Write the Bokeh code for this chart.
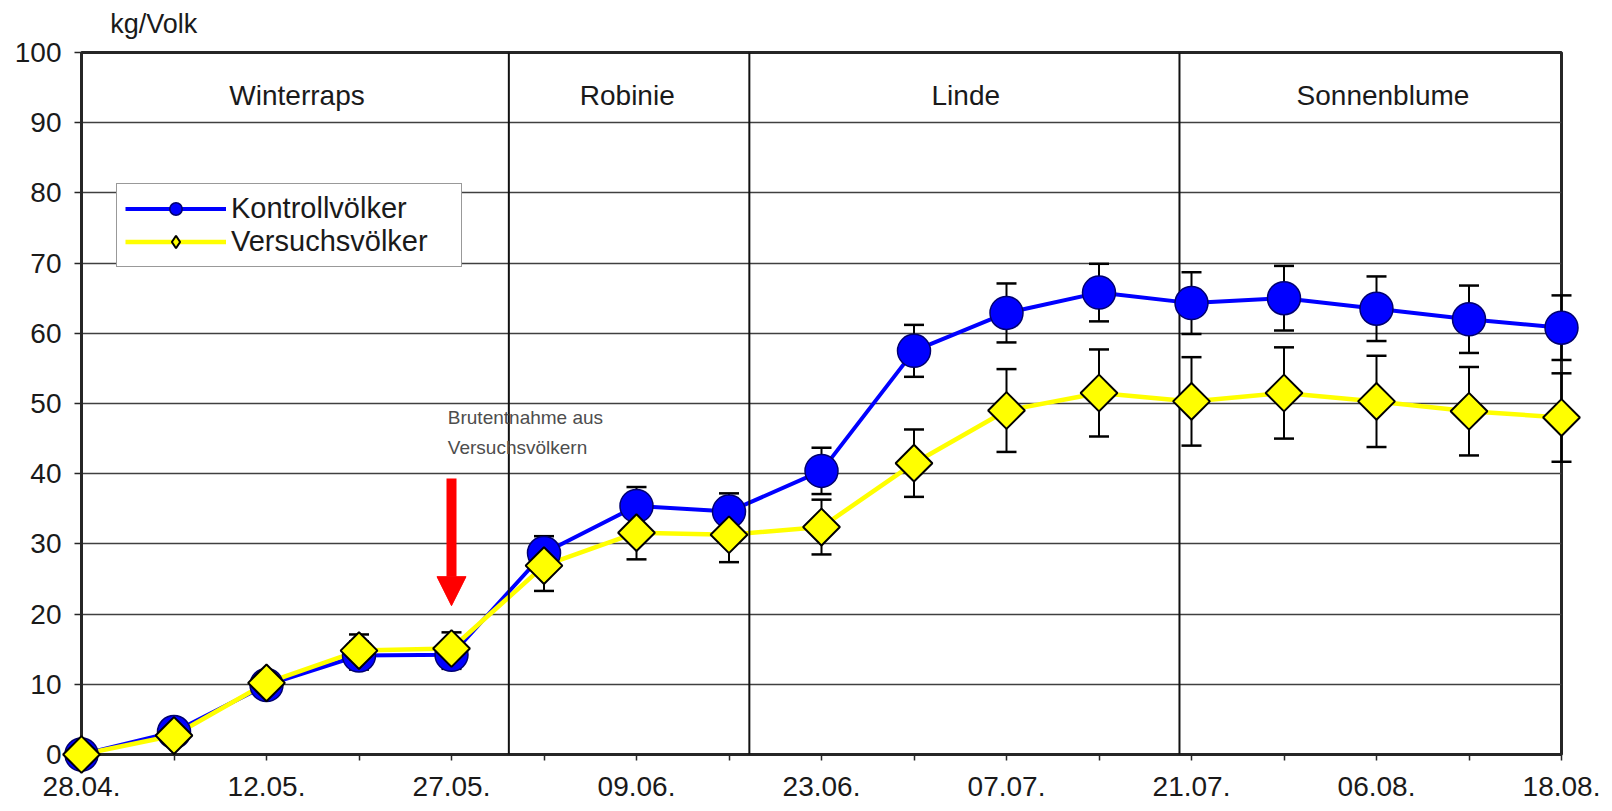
import numpy as np
from bokeh.plotting import figure
from bokeh.models import (Range1d, FixedTicker, Span, Label, Arrow, NormalHead,
                          ColumnDataSource, Legend, LegendItem)
from bokeh.core.properties import value
from bokeh.embed import file_html
from bokeh.resources import INLINE

# ---------------- data ----------------
dates = ["28.04.", "", "12.05.", "", "27.05.", "", "09.06.", "", "23.06.", "",
         "07.07.", "", "21.07.", "", "06.08.", "", "18.08."]
kontroll = [0.0, 3.2, 9.9, 14.1, 14.2, 28.7, 35.4, 34.6, 40.4, 57.5, 62.9, 65.8,
            64.3, 65.0, 63.5, 62.0, 60.8]
kontroll_err = [0.4, 0.8, 1.0, 2.0, 2.0, 2.4, 2.7, 2.6, 3.3, 3.7, 4.2, 4.1,
                4.4, 4.6, 4.6, 4.8, 4.6]
versuch = [0.0, 2.7, 10.2, 14.8, 15.1, 26.9, 31.6, 31.3, 32.4, 41.5, 49.0, 51.5,
           50.3, 51.5, 50.3, 48.9, 48.0]
versuch_err = [0.4, 0.8, 1.0, 2.3, 2.3, 3.6, 3.8, 3.9, 3.9, 4.8, 5.9, 6.2,
               6.3, 6.5, 6.5, 6.3, 6.3]
y_ticks = list(range(0, 101, 10))
sections = ["Winterraps", "Robinie", "Linde", "Sonnenblume"]
section_bounds = [4.62, 7.22, 11.87]          # boundaries between sections (date index)
section_label_x = [2.33, 5.90, 9.56, 14.07]
annotation_lines = ["Brutentnahme aus", "Versuchsvölkern"]
arrow_x, arrow_top, arrow_tip = 4, 39.3, 21.2

x = list(range(len(dates)))

FONT = "Liberation Sans"
TXT = "#1a1a1a"
BLUE = "#0000FF"
YELLOW = "#FFFF00"

p = figure(width=1608, height=808, x_range=Range1d(0, 16), y_range=Range1d(0, 100),
           output_backend="svg", toolbar_location=None,
           min_border_left=81, min_border_right=47, min_border_top=52, min_border_bottom=54)
p.background_fill_color = "white"
p.border_fill_color = "white"
p.outline_line_color = "#262626"
p.outline_line_width = 3

# axes
xa = p.xaxis[0]
xa.ticker = FixedTicker(ticks=x)
xa.major_label_overrides = {i: d for i, d in zip(x, dates)}
ya = p.yaxis[0]
ya.ticker = FixedTicker(ticks=y_ticks)
for ax in (xa, ya):
    ax.axis_line_color = "#262626"
    ax.axis_line_width = 3
    ax.major_tick_line_color = "#262626"
    ax.major_tick_line_width = 1.5
    ax.major_tick_in = 0
    ax.minor_tick_line_color = None
    ax.major_label_text_font = FONT
    ax.major_label_text_font_size = "28px"
    ax.major_label_text_color = TXT
xa.major_tick_out = 6
xa.major_label_standoff = 16
ya.major_tick_out = 7
ya.major_label_standoff = 13

p.xgrid.grid_line_color = None
p.ygrid.grid_line_color = "#404040"
p.ygrid.grid_line_width = 1.5

# section dividers and labels
for b in section_bounds:
    p.add_layout(Span(location=b, dimension="height", line_color="#111111", line_width=2))
for name, sx in zip(sections, section_label_x):
    p.add_layout(Label(x=sx, y=93.9, text=name, text_align="center", text_baseline="middle",
                       text_font=FONT, text_font_size="28px", text_color=TXT))

# unit label (above the frame, as an unclipped text glyph)
p.text(x=[0.31], y=[104.1], text=["kg/Volk"], text_align="left", text_baseline="middle",
       text_font=value(FONT), text_font_size="27px", text_color=TXT, level="overlay")

# series
src_k = ColumnDataSource(dict(x=x, y=kontroll, lo=[v - e for v, e in zip(kontroll, kontroll_err)],
                              hi=[v + e for v, e in zip(kontroll, kontroll_err)]))
src_v = ColumnDataSource(dict(x=x, y=versuch, lo=[v - e for v, e in zip(versuch, versuch_err)],
                              hi=[v + e for v, e in zip(versuch, versuch_err)]))

line_k = p.line("x", "y", source=src_k, line_color=BLUE, line_width=4)
line_v = p.line("x", "y", source=src_v, line_color=YELLOW, line_width=4.5)

# error bars
for src in (src_k, src_v):
    p.segment(x0="x", y0="lo", x1="x", y1="hi", source=src, line_color="black",
              line_width=2, level="overlay")
    p.scatter("x", "lo", source=src, marker="dash", size=20, line_color="black",
              line_width=2.5, level="overlay")
    p.scatter("x", "hi", source=src, marker="dash", size=20, line_color="black",
              line_width=2.5, level="overlay")

mk_k = p.scatter("x", "y", source=src_k, marker="circle", size=33, fill_color=BLUE,
                 line_color="#000070", line_width=1.5, level="overlay")
mk_v = p.scatter("x", "y", source=src_v, marker="square", angle=np.pi / 4, size=26,
                 fill_color=YELLOW, line_color="black", line_width=2, level="overlay")

# legend-only diamond symbol (its single point lies outside the visible range and is clipped)
leg_v = p.scatter(x=[-5], y=[-5], marker="diamond", size=20, fill_color=YELLOW,
                  line_color="black", line_width=2)

# annotation: arrow + text
p.add_layout(Arrow(x_start=arrow_x, y_start=arrow_top, x_end=arrow_x, y_end=arrow_tip,
                   line_color="#FF0000", line_width=10,
                   end=NormalHead(size=29, fill_color="#FF0000", line_color="#FF0000", line_width=1)))
for txt, yy in zip(annotation_lines, [48.0, 43.7]):
    p.add_layout(Label(x=3.96, y=yy, text=txt, text_align="left", text_baseline="middle",
                       text_font=FONT, text_font_size="19px", text_color="#4d4d4d"))

legend = Legend(items=[LegendItem(label="Kontrollvölker", renderers=[line_k, mk_k]),
                       LegendItem(label="Versuchsvölker", renderers=[line_v, leg_v])],
                location=(35, 487), padding=8, spacing=-4, margin=0,
                glyph_width=101, glyph_height=31, label_standoff=5, label_width=222,
                label_text_font=FONT, label_text_font_size="29px", label_text_color=TXT,
                border_line_color="#333333", border_line_width=1.5,
                background_fill_color="white", background_fill_alpha=1.0)
p.add_layout(legend)

open("out.html", "w").write(file_html(p, INLINE))
